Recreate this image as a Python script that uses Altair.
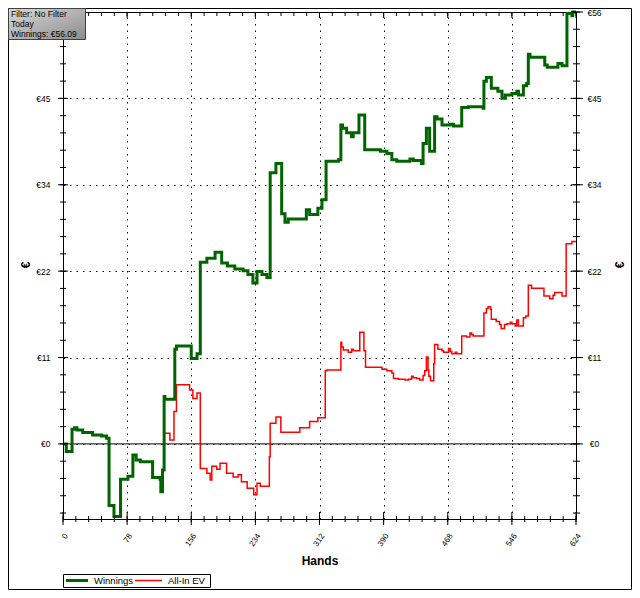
import altair as alt
import pandas as pd

# ---------------- data ----------------
win_hands = [0, 4, 11, 14, 17, 24, 36, 47, 53, 56, 62, 70, 79, 85, 89, 94, 109, 118, 119, 121,
             123, 124, 136, 138, 156, 163, 167, 175, 185, 193, 200, 209, 219, 225, 231, 236, 242, 248, 252, 259,
             266, 270, 274, 296, 300, 310, 315, 320, 335, 338, 340, 345, 351, 353, 360, 367, 386, 394, 400, 406,
             422, 426, 436, 438, 442, 446, 452, 455, 461, 471, 475, 485, 493, 511, 512, 515, 521, 529, 534, 538,
             546, 552, 554, 560, 564, 566, 568, 586, 589, 602, 607, 613, 619, 620, 624]
win_values = [0.0, -1.0, 1.9, 2.1, 1.8, 1.47, 1.17, 1.04, 0.74, -8.0, -9.44, -4.6, -4.2, -1.43, -2.1, -2.3, -4.37, -4.6, -6.2, -3.4,
              6.15, 5.8, 12.3, 12.7, 11.1, 11.7, 23.6, 24.1, 24.9, 23.5, 23.1, 22.7, 22.5, 22.0, 20.9, 22.4, 22.0, 21.6, 35.2, 36.4,
              29.9, 28.8, 29.2, 30.4, 29.8, 30.6, 31.7, 36.7, 36.9, 41.4, 41.0, 40.4, 39.9, 40.4, 42.7, 38.2, 38.0, 37.7, 36.9, 36.7,
              37.0, 36.8, 36.4, 39.0, 41.0, 38.0, 42.5, 42.2, 41.4, 41.5, 41.3, 43.7, 43.8, 43.6, 47.1, 47.6, 46.2, 45.8, 44.9, 45.3,
              45.5, 45.8, 45.3, 46.5, 46.8, 50.6, 50.2, 49.2, 48.9, 49.4, 49.1, 55.9, 55.6, 56.09, 56.09]

ev_hands = [0, 4, 11, 14, 17, 24, 36, 47, 53, 56, 62, 70, 79, 85, 89, 94, 109, 118, 119, 121,
            123, 130, 135, 138, 154, 158, 163, 167, 175, 179, 181, 187, 191, 199, 207, 213, 217, 224, 232, 236,
            240, 251, 252, 259, 265, 288, 300, 310, 319, 321, 338, 339, 341, 347, 351, 353, 361, 366, 368, 388,
            394, 400, 402, 408, 416, 420, 424, 426, 430, 434, 438, 440, 442, 444, 445, 447, 451, 452, 456, 461,
            463, 469, 471, 473, 477, 479, 485, 491, 495, 497, 499, 512, 515, 517, 520, 521, 527, 531, 533, 537,
            540, 544, 546, 550, 552, 554, 560, 563, 566, 570, 585, 592, 596, 598, 607, 612, 619, 624]
ev_values = [0.0, -1.0, 1.9, 2.1, 1.8, 1.47, 1.17, 1.04, 0.74, -8.0, -9.44, -4.6, -4.2, -1.43, -2.1, -2.3, -4.37, -4.6, -6.2, -3.4,
             1.4, 0.5, 4.2, 7.7, 7.0, 5.9, 6.6, -3.2, -3.8, -4.7, -2.9, -3.3, -2.5, -3.8, -4.3, -4.0, -4.9, -5.75, -6.6, -5.1,
             -5.5, -1.65, 2.7, 3.5, 1.5, 2.1, 2.9, 3.4, 9.5, 9.6, 13.2, 12.6, 12.2, 11.9, 12.3, 12.1, 14.5, 12.1, 9.96, 9.7,
             9.5, 9.2, 8.5, 8.4, 8.3, 8.4, 8.8, 8.6, 8.5, 8.3, 8.9, 9.5, 11.3, 9.6, 8.8, 8.2, 10.4, 12.9, 12.3, 12.1,
             11.9, 12.4, 12.0, 11.7, 11.9, 11.7, 14.0, 13.9, 14.4, 14.2, 14.0, 17.0, 17.6, 17.8, 17.5, 16.2, 15.9, 15.5, 15.0, 15.5,
             15.6, 15.8, 15.6, 15.3, 16.1, 15.3, 16.4, 16.6, 20.6, 20.2, 19.2, 18.85, 19.3, 19.65, 19.2, 26.0, 26.3, 26.3]

x_domain = [0, 624]
y_domain = [-9.75, 56.09]
x_major = [0, 78, 156, 234, 312, 390, 468, 546, 624]
x_minor = [0, 15.6, 31.2, 46.8, 62.4, 78, 93.6, 109.2, 124.8, 140.4, 156, 171.6, 187.2, 202.8, 218.4, 234,
           249.6, 265.2, 280.8, 296.4, 312, 327.6, 343.2, 358.8, 374.4, 390, 405.6, 421.2, 436.8, 452.4, 468,
           483.6, 499.2, 514.8, 530.4, 546, 561.6, 577.2, 592.8, 608.4, 624]
y_major = [0, 11.218, 22.436, 33.654, 44.872, 56.09]
y_labels_right = ["€0", "€11", "€22", "€34", "€45", "€56"]
y_labels_left = ["€0", "€11", "€22", "€34", "€45", ""]   # top-left label is hidden under the info box
y_minor = [-8.974, -6.731, -4.487, -2.244, 0, 2.244, 4.487, 6.731, 8.974, 11.218, 13.462, 15.705, 17.949,
           20.192, 22.436, 24.680, 26.923, 29.167, 31.410, 33.654, 35.898, 38.141, 40.385, 42.628, 44.872,
           47.116, 49.359, 51.603, 53.846, 56.09]
zero_line = [0]

series_names = ["Winnings", "All-In EV"]
series_colors = ["#006400", "#ff0000"]
series_widths = [3, 1.5]
info_lines = ["Filter: No Filter", "Today", "Winnings: €56.09"]
x_title = "Hands"
y_title = "€"

# ---------------- layout ----------------
W, H = 513, 507
FONT = "Liberation Sans"
xs = alt.Scale(domain=x_domain, nice=False, zero=False)
ys = alt.Scale(domain=y_domain, nice=False, zero=False)

vals_js = "[" + ",".join(str(v) for v in y_major) + "]"


def label_expr(labels):
    labs_js = "[" + ",".join("'" + s + "'" for s in labels) + "]"
    return f"indexof({vals_js}, datum.value) >= 0 ? {labs_js}[indexof({vals_js}, datum.value)] : ''"


one = pd.DataFrame({"k": [0]})


def step_line(hands, values, color, width):
    df = pd.DataFrame({"hand": hands, "value": values})
    return alt.Chart(df).mark_line(interpolate="step-after", color=color, strokeWidth=width).encode(
        x=alt.X("hand:Q", scale=xs, axis=None),
        y=alt.Y("value:Q", scale=ys, axis=None),
    )


def xticks(vals, y1, y2, axis=None):
    return alt.Chart(pd.DataFrame({"h": vals})).mark_rule(color="black", strokeWidth=1).encode(
        x=alt.X("h:Q", scale=xs, axis=axis), y=alt.value(y1), y2=alt.value(y2))


def yticks(vals, x1, x2, axis=None):
    return alt.Chart(pd.DataFrame({"v": vals})).mark_rule(color="black", strokeWidth=1).encode(
        y=alt.Y("v:Q", scale=ys, axis=axis), x=alt.value(x1), x2=alt.value(x2))


grid_dash = [1.5, 5]

bottom_axis = alt.Axis(
    orient="bottom", values=x_major, grid=True, gridDash=grid_dash, gridColor="black", gridOpacity=1,
    domain=False, ticks=False, tickSize=0, labelAngle=305, labelAlign="right", labelBaseline="top",
    labelPadding=13, labelFont=FONT, labelFontSize=8, labelColor="black", labelOverlap=False,
    labelFlush=False, title=x_title, titleFont=FONT, titleFontSize=12, titleFontWeight="bold",
    titleColor="black", titleY=41.5, titleBaseline="middle", titleAlign="center")

left_axis = alt.Axis(
    orient="left", values=y_major, labelExpr=label_expr(y_labels_left), grid=True, gridDash=grid_dash,
    gridColor="black", gridOpacity=1, domain=False, ticks=False, tickSize=0, labelPadding=13,
    labelFont=FONT, labelFontSize=8.5, labelColor="black", labelBaseline="middle", labelAlign="right",
    labelOverlap=False, labelFlush=False, title=y_title, titleFont=FONT, titleFontSize=12,
    titleFontWeight="bold", titleColor="black", titleAngle=270, titleX=-38, titleY=252.5,
    titleAlign="center", titleBaseline="middle")

right_axis = alt.Axis(
    orient="right", values=y_major, labelExpr=label_expr(y_labels_right), grid=False, domain=False,
    ticks=False, tickSize=0, labelPadding=18, labelFont=FONT, labelFontSize=8.5, labelColor="black",
    labelBaseline="middle", labelAlign="center", labelOverlap=False, labelFlush=False,
    title=y_title, titleFont=FONT, titleFontSize=12, titleFontWeight="bold", titleColor="black",
    titleAngle=270, titleX=43, titleY=252.5, titleAlign="center", titleBaseline="middle")

# frame around the whole chart
frame = alt.Chart(one).mark_rect(fillOpacity=0, stroke="black", strokeWidth=1).encode(
    x=alt.value(-54.5), x2=alt.value(568.5), y=alt.value(-3.5), y2=alt.value(577.5))

zero = alt.Chart(pd.DataFrame({"v": zero_line})).mark_rule(color="black", strokeWidth=1).encode(
    y=alt.Y("v:Q", scale=ys, axis=None), x=alt.value(0), x2=alt.value(W))

ev_line = step_line(ev_hands, ev_values, series_colors[1], series_widths[1])
win_line = step_line(win_hands, win_values, series_colors[0], series_widths[0])

ticks = [
    xticks(x_major, H - 7, H + 6, axis=bottom_axis),
    xticks(x_minor, H - 3, H + 3),
    xticks(x_major, 0, 6),
    xticks(x_minor, 0, 4),
    yticks(y_major, -5, 5, axis=left_axis),
    yticks(y_minor, -3, 3),
    yticks(y_major, W - 5, W + 7, axis=right_axis),
    yticks(y_minor, W - 3, W + 4),
]

# info box (top-left)
info_box = alt.Chart(one).mark_rect(
    fill=alt.LinearGradient(gradient="linear", x1=0, y1=0, x2=1, y2=1,
                            stops=[alt.GradientStop(color="#d8d8d8", offset=0),
                                   alt.GradientStop(color="#8c8c8c", offset=1)]),
    stroke="#404040", strokeWidth=1).encode(
    x=alt.value(-54.5), x2=alt.value(22.5), y=alt.value(-3.5), y2=alt.value(27.5))
info_text = alt.Chart(one).mark_text(
    text=info_lines, align="left", baseline="top", font=FONT, fontSize=8.5, lineHeight=10,
    color="black").encode(x=alt.value(-52), y=alt.value(-2.5))

# legend (bottom-left)
leg_y = 568.5
leg_box = alt.Chart(one).mark_rect(fill="white", stroke="black", strokeWidth=1).encode(
    x=alt.value(0.5), x2=alt.value(147.5), y=alt.value(562.5), y2=alt.value(575.5))
leg_w_line = alt.Chart(one).mark_rule(color=series_colors[0], strokeWidth=series_widths[0]).encode(
    x=alt.value(3), x2=alt.value(25), y=alt.value(leg_y))
leg_w_text = alt.Chart(one).mark_text(text=series_names[0], align="left", baseline="middle", font=FONT,
                                      fontSize=9.5, color="black").encode(x=alt.value(31), y=alt.value(leg_y))
leg_e_line = alt.Chart(one).mark_rule(color=series_colors[1], strokeWidth=series_widths[1]).encode(
    x=alt.value(72), x2=alt.value(99), y=alt.value(leg_y))
leg_e_text = alt.Chart(one).mark_text(text=series_names[1], align="left", baseline="middle", font=FONT,
                                      fontSize=9.5, color="black").encode(x=alt.value(105), y=alt.value(leg_y))

chart = alt.layer(
    frame, zero, ev_line, win_line, *ticks, info_box, info_text,
    leg_box, leg_w_line, leg_w_text, leg_e_line, leg_e_text,
).resolve_axis(x="independent", y="independent").properties(
    width=W, height=H,
    padding={"left": 55, "top": 4, "right": 56, "bottom": 71},
    autosize=alt.AutoSizeParams(type="none"),
    background="white",
).configure_view(stroke="black", strokeWidth=1)

chart.save("out.html", embed_options={"renderer": "svg", "actions": False})
